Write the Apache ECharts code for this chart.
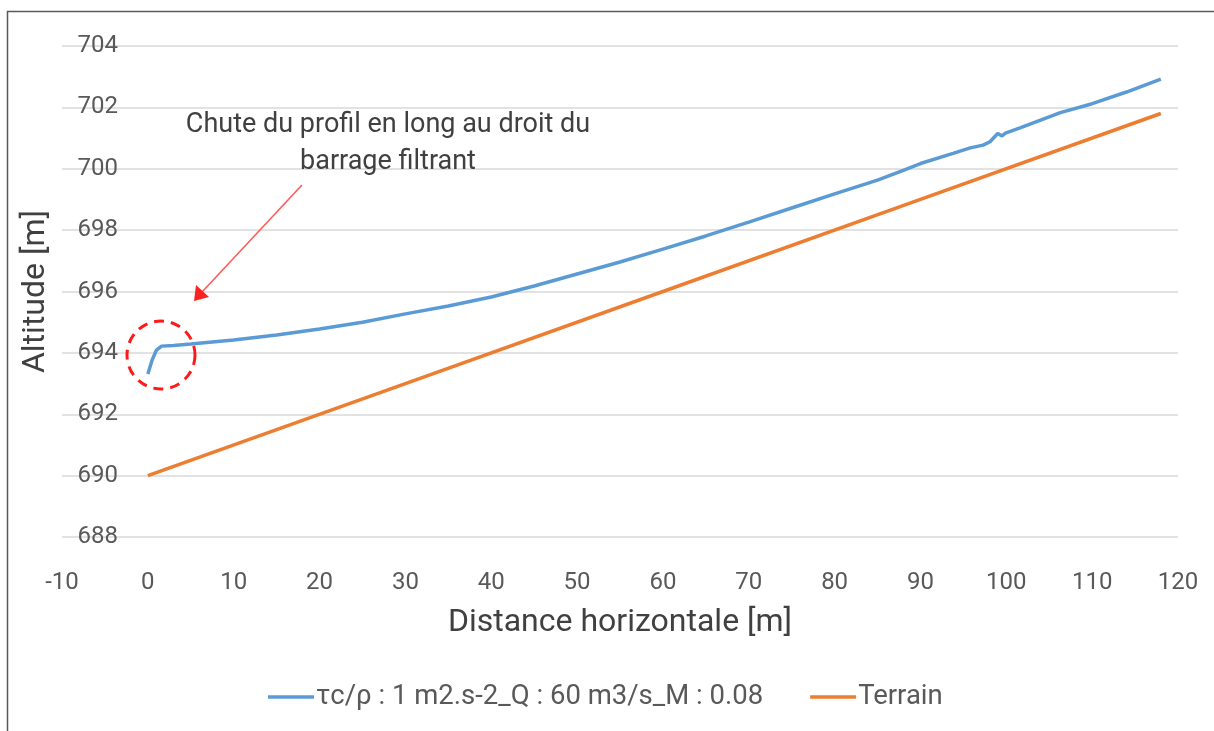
<!DOCTYPE html>
<html>
<head>
<meta charset="utf-8">
<script src="https://cdn.jsdelivr.net/npm/echarts@6/dist/echarts.min.js"></script>
<style>
html,body{margin:0;padding:0;background:#fff;}
#main{width:1214px;height:731px;}
</style>
</head>
<body>
<div id="main"></div>
<script>
// ---- data ----
const seriesNames = ['τc/ρ : 1 m2.s-2_Q : 60 m3/s_M : 0.08', 'Terrain'];
const profileX = [0, 0.5, 1, 1.6, 3, 5, 10, 15, 20, 25, 30, 35, 40, 45, 50, 55, 60, 65, 70, 75, 80, 85, 88, 90, 93.8, 95.8, 97.3, 98.1, 99.0, 99.5, 99.9, 101.6, 106.3, 110, 114, 118];
const profileY = [693.31, 693.77, 694.09, 694.22, 694.24, 694.29, 694.42, 694.58, 694.78, 695.0, 695.27, 695.53, 695.82, 696.18, 696.57, 696.96, 697.38, 697.81, 698.26, 698.72, 699.18, 699.63, 699.95, 700.17, 700.5, 700.68, 700.77, 700.88, 701.15, 701.07, 701.16, 701.33, 701.83, 702.12, 702.5, 702.92];
const terrainX = [0, 30, 60, 90, 118];
const terrainY = [690, 693, 696, 699, 701.8];
const xTicks = {min: -10, max: 120, step: 10};
const yTicks = {min: 688, max: 704, step: 2};
const annotationLines = ['Chute du profil en long au droit du', 'barrage filtrant'];
const xTitle = 'Distance horizontale [m]';
const yTitle = 'Altitude [m]';

const FONT = 'Roboto';
const chart = echarts.init(document.getElementById('main'), null, {renderer: 'canvas'});

const zip = (xs, ys) => xs.map((x, i) => [x, ys[i]]);

chart.setOption({
  backgroundColor: '#ffffff',
  animation: false,
  textStyle: {fontFamily: FONT},
  grid: {left: 62, right: 36, top: 46, bottom: 194, containLabel: false, outerBoundsMode: 'none'},
  legend: {
    left: 263, top: 678,
    itemWidth: 46, itemHeight: 3.5, itemGap: 47,
    icon: 'rect',
    textStyle: {fontFamily: FONT, fontSize: 27.5, color: '#595959', padding: [0, 0, 0, -3]},
    data: seriesNames
  },
  xAxis: {
    type: 'value', min: xTicks.min, max: xTicks.max, interval: xTicks.step,
    name: xTitle, nameLocation: 'middle', nameGap: 70,
    nameTextStyle: {fontFamily: FONT, fontSize: 32, color: '#404040'},
    axisLine: {show: false, onZero: false},
    axisTick: {show: false},
    splitLine: {show: false},
    axisLabel: {fontFamily: FONT, fontSize: 24, color: '#595959', margin: 34}
  },
  yAxis: {
    type: 'value', min: yTicks.min, max: yTicks.max, interval: yTicks.step,
    name: yTitle, nameLocation: 'middle', nameGap: 10,
    nameTextStyle: {fontFamily: FONT, fontSize: 32, color: '#404040'},
    axisLine: {show: false, onZero: false},
    axisTick: {show: false},
    splitLine: {show: true, lineStyle: {color: '#d9d9d9', width: 1.5}},
    axisLabel: {fontFamily: FONT, fontSize: 24, color: '#595959', margin: -56}
  },
  series: [
    {
      name: seriesNames[0], type: 'line', data: zip(profileX, profileY),
      symbol: 'none', smooth: false,
      lineStyle: {color: '#5b9bd5', width: 3.5}, itemStyle: {color: '#5b9bd5'}
    },
    {
      name: seriesNames[1], type: 'line', data: zip(terrainX, terrainY),
      symbol: 'none',
      lineStyle: {color: '#ed7d31', width: 3.5}, itemStyle: {color: '#ed7d31'}
    }
  ],
  graphic: [
    {type: 'rect', shape: {x: 7.5, y: 11.5, width: 1230, height: 740}, style: {fill: null, stroke: '#595959', lineWidth: 1.5}, silent: true},
    {type: 'text', x: 388, y: 144, style: {text: annotationLines.join('\n'), font: '27px ' + FONT, fill: '#404040', align: 'center', verticalAlign: 'middle', lineHeight: 37}, silent: true, z: 10},
    {type: 'line', shape: {x1: 302, y1: 185, x2: 202, y2: 292}, style: {stroke: '#ff5a5a', lineWidth: 1.6}, silent: true, z: 10},
    {type: 'polygon', shape: {points: [[194, 301], [196, 285], [209, 297]]}, style: {fill: '#ff2020'}, silent: true, z: 10},
    {type: 'circle', shape: {cx: 161, cy: 355, r: 34}, style: {fill: null, stroke: '#ff1a1a', lineWidth: 3, lineDash: [10, 7]}, silent: true, z: 10}
  ]
});
</script>
</body>
</html>
